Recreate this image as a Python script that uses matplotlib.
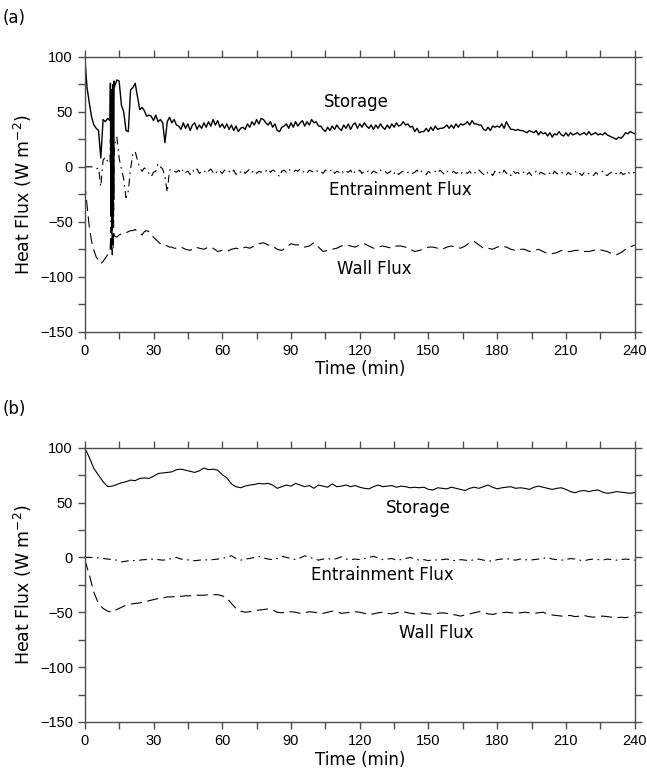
import numpy as np
import matplotlib
matplotlib.use("Agg")
import matplotlib.pyplot as plt

# ---------------- (a) ----------------
# time axis: 1-min steps, finer sampling through the spin-up burst at 11-13 min
t_a = np.concatenate([np.arange(0, 11), np.arange(11, 13, 0.2), np.arange(13, 241)])

storage_a = [
    100, 72, 58, 45, 38, 35, 33, 8, 43, 41, 44,
    42, 76, -40, 70, -58, 60, -50, 75, -30, 78,
    73, 79, 78, 56, 50, 33, 32, 70, 72, 76, 64, 52, 54, 51, 46, 47, 46, 42, 47, 41,
    43, 40, 22, 41, 45, 40, 43, 38,
    37, 34, 40, 35, 39, 33, 38, 40, 34, 38,
    35, 40, 36, 41, 37, 43, 38, 42, 36, 39,
    35, 39, 34, 38, 33, 37, 32, 35, 36, 34,
    39, 36, 41, 38, 43, 39, 44, 43, 40, 38,
    41, 36, 39, 33, 32, 36, 37, 39, 35, 40,
    36, 41, 37, 40, 42, 37, 41, 38, 43, 40,
    41, 37, 37, 34, 32, 36, 33, 37, 34, 38,
    35, 33, 38, 35, 39, 34, 38, 40, 35, 39,
    36, 40, 37, 35, 38, 34, 38, 35, 39, 36,
    34, 38, 35, 39, 36, 40, 37, 38, 41, 38,
    39, 36, 37, 32, 35, 31, 32, 32, 35, 32,
    36, 33, 37, 34, 35, 35, 36, 38, 35, 38,
    35, 39, 36, 39, 38, 39, 41, 38, 42, 39,
    39, 38, 38, 34, 33, 36, 33, 37, 36, 37,
    36, 39, 35, 41, 37, 34, 34, 33, 34, 33,
    33, 32, 31, 33, 32, 31, 33, 29, 32, 30,
    31, 28, 31, 27, 30, 29, 32, 29, 28, 31,
    28, 31, 29, 30, 31, 29, 30, 31, 29, 32,
    29, 30, 31, 29, 30, 29, 31, 29, 28, 27,
    26, 25, 27, 26, 28, 31, 30, 32, 31, 30,
]

entrain_a = [
    0, 0, 0, 0, -1, -2, -1, -18, 6, 9, 5,
    3, 25, -50, 20, -60, 15, -45, 27, -55, 10,
    20, 27, 8, -2, -11, -28, -22, -2, 12, 14, 6, -1, -4, -1, -3, -6, -9, -5, -4, 3,
    0, -2, -9, -23, -3, -2, -4, -5,
    -3, -6, -2, -5, -4, -7, -3, -5, -2, -6,
    -4, -3, -6, -4, -2, -5, -7, -3, -4, -6,
    -3, -5, -4, -6, -3, -7, -4, -5, -3, -6,
    -4, -2, -5, -3, -6, -4, -5, -3, -4, -2,
    -5, -3, -4, -6, -9, -4, -3, -5, -2, -4,
    -5, -3, -4, -2, -5, -4, -6, -3, -4, -5,
    -3, -5, -4, -6, -3, -5, -4, -2, -6, -4,
    -5, -3, -6, -4, -5, -3, -7, -4, -5, -3,
    -6, -4, -5, -3, -6, -4, -5, -6, -3, -5,
    -4, -6, -5, -3, -6, -4, -7, -5, -4, -6,
    -5, -4, -6, -5, -3, -6, -4, -5, -7, -4,
    -6, -5, -4, -6, -3, -5, -7, -4, -5, -6,
    -4, -6, -5, -7, -4, -5, -6, -4, -7, -5,
    -6, -3, -5, -7, -4, -6, -5, -8, -4, -6,
    -5, -7, -3, -6, -5, -8, -4, -6, -5, -7,
    -6, -4, -7, -5, -8, -6, -4, -7, -5, -6,
    -7, -5, -6, -8, -4, -6, -7, -5, -6, -8,
    -5, -7, -6, -4, -7, -6, -8, -5, -7, -6,
    -6, -8, -5, -7, -6, -4, -7, -8, -6, -5,
    -7, -6, -8, -5, -7, -6, -4, -7, -6, -5,
]

t_wall_a = np.concatenate([np.arange(0, 11), np.arange(11, 13, 0.2),
                           np.arange(13, 41), np.arange(42, 241, 2)])
wall_a = [
    -15, -35, -55, -68, -76, -82, -85, -88, -86, -83, -80,
    -77, -70, -55, -78, -52, -80, -60, -75, -58, -62,
    -63, -64, -62, -61, -60, -60, -59, -58, -58, -57, -59, -60, -62, -59,
    -58, -59, -62, -64, -66, -68, -70, -71, -71, -72, -73, -73, -74, -74,
    -73, -75, -76, -73, -74, -75, -73, -74, -77, -76,
    -77, -75, -74, -75, -73, -74, -72, -70, -69, -71,
    -72, -75, -76, -73, -70, -71, -71, -73, -72, -69,
    -73, -77, -76, -75, -74, -72, -71, -72, -73, -71,
    -70, -72, -74, -73, -72, -73, -74, -72, -72, -73,
    -75, -77, -76, -75, -73, -73, -74, -75, -73, -72,
    -73, -74, -72, -69, -68, -71, -74, -74, -75, -73,
    -72, -73, -75, -76, -75, -75, -77, -76, -75, -77,
    -79, -79, -78, -76, -77, -77, -76, -76, -77, -77,
    -76, -75, -76, -77, -79, -80, -78, -75, -73, -71,
]

# ---------------- (b) ----------------
t_b = np.arange(0, 241, 2)

storage_b = [
    100, 91, 81, 75, 69, 64.5, 65, 66.5, 68, 69, 70.5,
    70, 72, 72.5, 72, 74, 76.5, 77, 77.5, 78, 80,
    80.5, 79.5, 78.5, 77.5, 79, 81.5, 80, 80.5, 79.5, 75.5,
    72.5, 67, 64.5, 63.5, 65, 66, 66.5, 67.5, 67, 67.5,
    66, 63, 64.5, 66, 65, 67.5, 66, 64.5, 65.5, 63,
    66, 65, 64, 67, 64.5, 65, 66, 64.5, 65.5, 64,
    63, 62.5, 64.5, 66, 64.5, 65, 65.5, 64, 65, 64.5,
    63.5, 64, 63.5, 64, 62, 61.5, 63.5, 63, 62.5, 64,
    63, 62, 61, 63, 64, 63, 64.5, 66, 64, 62.5,
    63.5, 64, 64.5, 63, 63.5, 63, 62, 64, 65, 64,
    63, 62, 63, 63.5, 62, 60, 59, 60.5, 61, 60,
    61, 61.5, 59.5, 58.5, 59, 60, 59.5, 59, 58.5, 59,
]

entrain_b = [
    0, 0, 0, -0.5, -1, -1.5,
    -2, -2.5, -4, -3.5, -2.5, -3, -2.5, -2, -2, -1.5, -2, -2.5, -2, -1, 0,
    -1.5, -2, -2.5, -3, -2.5, -2, -2.5, -2, -1.5, -1, 0.5, 1.5, -1, -2.5, -1.5, -1, 0, 1, -0.5, -1.5,
    -2, -1, 1, 0, -1, -2, -0.5, 1.5, 0, -1, -2.5, -1.5, -1, -2, -1, 0.5, -1.5, -2, -1.5, -2,
    -1, 0, 1, -0.5, -2, -1.5, -1, -2.5, -2, -1, 0, -1.5, -2.5, -2, -3, -2, -2.5, -2, -1.5, -2.5,
    -3, -2, -2.5, -3, -2, -1.5, -2.5, -3, -3.5, -2, -1.5, -1, -2, -2.5, -1.5, -2, -2.5, -2, -1.5, -1,
    0, -1.5, -2, -2.5, -2, -1, -1.5, -2.5, -3, -2, -1.5, -2, -2.5, -1.5, -2, -2.5, -2, -1.5, -2, -2.5,
]

wall_b = [
    -2, -16, -32, -42, -46.5, -49, -50, -47.5, -45.5, -43.5, -42.5,
    -42, -41.5, -40.5, -39.5, -38.5, -37.5, -37, -36, -36, -35.5,
    -35.5, -35, -35, -34.5, -34.5, -34.5, -34, -34, -34, -35,
    -37, -42, -46.5, -49, -50, -49.5, -48.5, -48, -47.5, -47,
    -48, -50, -50.5, -50, -49.5, -50, -51, -50.5, -49.5, -50,
    -50.5, -51, -50, -49, -49.5, -51, -50.5, -50, -49.5, -50,
    -51, -52, -51.5, -50.5, -50, -51, -51.5, -50.5, -49.5, -50,
    -51, -51.5, -50.5, -51, -51.5, -52, -51, -50.5, -51, -52,
    -52.5, -53.5, -52.5, -51.5, -50.5, -49.5, -50, -51.5, -52, -51,
    -50.5, -50, -50.5, -51, -50.5, -50, -50.5, -51, -50.5, -50,
    -51.5, -52.5, -53, -53.5, -53, -53, -54, -53.5, -53, -54,
    -54.5, -54, -53.5, -54, -54.5, -55, -54.5, -55, -54, -53,
]

x_ticks = [0, 30, 60, 90, 120, 150, 180, 210, 240]
y_ticks = [-150, -100, -50, 0, 50, 100]

wall_style = (0, (10, 5))
entrain_style = (0, (7, 4, 1.5, 4))

fig = plt.figure(figsize=(6.47, 7.68), dpi=100)
ax_a = fig.add_axes([0.131, 0.568, 0.850, 0.358])
ax_b = fig.add_axes([0.131, 0.060, 0.850, 0.357])

ax_a.plot(t_a, storage_a, color="black", lw=1.0)
ax_a.plot(t_a, entrain_a, color="black", lw=0.8, linestyle=entrain_style)
ax_a.plot(t_wall_a, wall_a, color="black", lw=0.8, linestyle=wall_style)

ax_b.plot(t_b, storage_b, color="black", lw=0.8)
ax_b.plot(t_b, entrain_b, color="black", lw=0.8, linestyle=entrain_style)
ax_b.plot(t_b, wall_b, color="black", lw=0.8, linestyle=wall_style)

curve_font = dict(fontsize=12, ha="center", va="center", family="DejaVu Sans")
ax_a.text(118.7, 59, "Storage", **curve_font)
ax_a.text(137.9, -21, "Entrainment Flux", **curve_font)
ax_a.text(126.5, -93, "Wall Flux", **curve_font)
ax_b.text(145.7, 45.5, "Storage", **curve_font)
ax_b.text(130, -16, "Entrainment Flux", **curve_font)
ax_b.text(153.6, -69, "Wall Flux", **curve_font)

for ax, tag in ((ax_a, "(a)"), (ax_b, "(b)")):
    ax.set_xlim(0, 240)
    ax.set_ylim(-150, 100)
    ax.set_xticks(x_ticks)
    ax.set_xticks(np.arange(0, 241, 15), minor=True)
    ax.set_yticks(y_ticks)
    ax.set_yticks(np.arange(-150, 101, 25), minor=True)
    ax.tick_params(which="both", direction="out", top=True, right=True,
                   color="0.3", width=1.0, labelsize=10.5)
    ax.tick_params(which="major", length=5)
    ax.tick_params(which="minor", length=5)
    for lab in ax.get_xticklabels() + ax.get_yticklabels():
        lab.set_family("Liberation Sans")
    for sp in ax.spines.values():
        sp.set_color("0.3")
        sp.set_linewidth(1.0)
    ax.set_xlabel("Time (min)", fontsize=12, family="DejaVu Sans", labelpad=2)
    ax.set_ylabel("Heat Flux (W m$^{-2}$)", fontsize=12.5, family="DejaVu Sans", labelpad=4)
    ax.text(-0.15, 1.143, tag, transform=ax.transAxes, fontsize=12,
            family="DejaVu Sans", ha="left", va="center")

fig.savefig("out.png", dpi=100)
